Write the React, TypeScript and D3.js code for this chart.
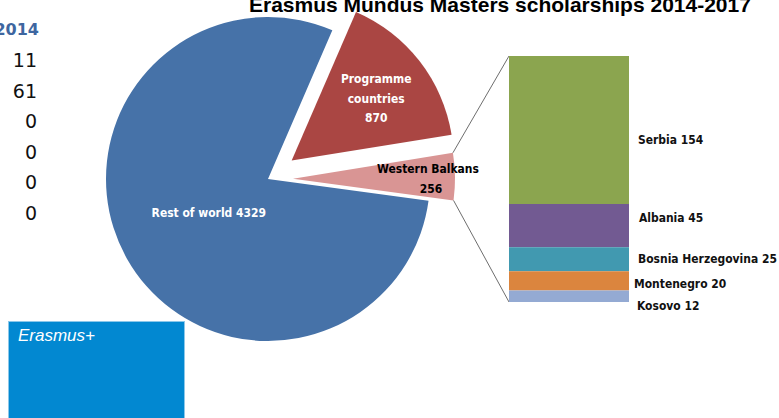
import React from "react";
import * as d3 from "d3";

const titleText = "Erasmus Mundus Masters scholarships 2014-2017";
const pieCategories = ["Programme countries", "Western Balkans", "Rest of world"];
const pieValues = [870, 256, 4329];
const barCategories = ["Serbia", "Albania", "Bosnia Herzegovina", "Montenegro", "Kosovo"];
const barValues = [154, 45, 25, 20, 12];
const tableYear = "2014";
const tableValues = [11, 61, 0, 0, 0, 0];
const logoText = "Erasmus+";

const W = 779;
const H = 418;
const cx = 268;
const cy = 179;
const R = 162;
const deg = Math.PI / 180;
const explode = [30, 25, 0];
const pieColors = ["#AA4643", "#D99594", "#4672A8"];
const barColors = ["#8BA54F", "#725A92", "#4199B0", "#DB853E", "#94AAD3"];
const labelFont = "'DejaVu Sans Condensed', 'Liberation Sans Narrow', sans-serif";
const LFS = 13;
const SX = 0.92;

function Label(props: {
  x: number;
  y: number;
  text: string | number;
  anchor?: "start" | "middle" | "end";
  fill?: string;
}) {
  const { x, y, text, anchor = "start", fill = "#111" } = props;
  return (
    <text
      transform={`translate(${x},${y}) scale(${SX},1)`}
      textAnchor={anchor}
      fontFamily={labelFont}
      fontWeight="bold"
      fontSize={LFS}
      fill={fill}
    >
      {text}
    </text>
  );
}

export default function App() {
  const pie = d3
    .pie<number>()
    .sort(null)
    .value((d) => d)
    .startAngle(23.4 * deg)
    .endAngle(23.4 * deg + 2 * Math.PI);
  const arcs = pie(pieValues);
  const arcGen = d3.arc<d3.PieArcDatum<number>>().innerRadius(0).outerRadius(R);

  const offsets = arcs.map((a, i) => {
    const mid = (a.startAngle + a.endAngle) / 2;
    return [Math.sin(mid) * explode[i], -Math.cos(mid) * explode[i]];
  });

  // bar of pie
  const barX0 = 509;
  const barW = 120;
  const total = d3.sum(barValues);
  const y = d3.scaleLinear().domain([0, total]).range([56, 302]);
  const cum = d3.cumsum(barValues);
  const starts = barValues.map((v, i) => cum[i] - v);

  // connector
  const wb = arcs[1];
  const wbOff = offsets[1];
  const pt = (a: number) => [cx + wbOff[0] + R * Math.sin(a), cy + wbOff[1] - R * Math.cos(a)];
  const topPt = pt(wb.startAngle);
  const botPt = pt(wb.endAngle);

  const labelPos = (i: number, rr: number) => {
    const a = arcs[i];
    const mid = (a.startAngle + a.endAngle) / 2;
    return [cx + offsets[i][0] + rr * Math.sin(mid), cy + offsets[i][1] - rr * Math.cos(mid)];
  };
  const progPos = labelPos(0, 102);
  const wbPos = labelPos(1, 135);
  const restPos = labelPos(2, 68);

  const barLabelX = [638, 639, 638, 634, 637];
  const barLabelDy = [9, -8, -1, 2, 9];
  const base = LFS * 0.36;

  return (
    <svg
      width={W}
      height={H}
      style={{ position: "absolute", left: 0, top: 0, background: "#fff" }}
    >
      <text
        x={249}
        y={12}
        fontFamily="'Liberation Sans', Arial, sans-serif"
        fontWeight="bold"
        fontSize={21}
        fill="#000"
      >
        {titleText}
      </text>

      {/* left table */}
      <text x={39} y={35} textAnchor="end" fontFamily="'DejaVu Sans', sans-serif" fontWeight="bold" fontSize={16} fill="#3E66A0">
        {tableYear}
      </text>
      {tableValues.map((v, i) => (
        <text key={i} x={37} y={67 + i * 30.6} textAnchor="end" fontFamily="'DejaVu Sans', sans-serif" fontSize={19} fill="#111">
          {v}
        </text>
      ))}

      {/* logo box */}
      <rect x={8.5} y={321.5} width={176} height={110} fill="#0288D1" stroke="#8CC8EA" strokeWidth={1} />
      <text x={18} y={341} fontFamily="'Liberation Sans', Arial, sans-serif" fontStyle="italic" fontSize={17} fill="#fff">
        {logoText}
      </text>

      {/* pie */}
      {arcs.map((a, i) => (
        <path
          key={pieCategories[i]}
          d={arcGen(a) || ""}
          transform={`translate(${cx + offsets[i][0]},${cy + offsets[i][1]})`}
          fill={pieColors[i]}
        />
      ))}

      {/* connector lines */}
      <line x1={topPt[0]} y1={topPt[1]} x2={barX0} y2={y(0)} stroke="#6e6e6e" strokeWidth={1} />
      <line x1={botPt[0]} y1={botPt[1]} x2={barX0} y2={y(total)} stroke="#6e6e6e" strokeWidth={1} />

      {/* bar */}
      {barValues.map((v, i) => (
        <rect
          key={barCategories[i]}
          x={barX0}
          y={y(starts[i])}
          width={barW}
          height={y(starts[i] + v) - y(starts[i])}
          fill={barColors[i]}
        />
      ))}
      {barValues.map((v, i) => (
        <Label
          key={"l" + i}
          x={barLabelX[i]}
          y={(y(starts[i]) + y(starts[i] + v)) / 2 + base + barLabelDy[i]}
          text={`${barCategories[i]} ${v}`}
        />
      ))}

      {/* pie labels */}
      <Label x={progPos[0] + 4} y={progPos[1] - 20 + base} text="Programme" anchor="middle" fill="#fff" />
      <Label x={progPos[0] + 4} y={progPos[1] + base} text="countries" anchor="middle" fill="#fff" />
      <Label x={progPos[0] + 4} y={progPos[1] + 19 + base} text={pieValues[0]} anchor="middle" fill="#fff" />

      <Label x={wbPos[0]} y={wbPos[1] - 9 + base} text={pieCategories[1]} anchor="middle" fill="#000" />
      <Label x={wbPos[0] + 3} y={wbPos[1] + 11 + base} text={pieValues[1]} anchor="middle" fill="#000" />

      <Label x={restPos[0]} y={restPos[1] + base} text={`${pieCategories[2]} ${pieValues[2]}`} anchor="middle" fill="#fff" />
    </svg>
  );
}
